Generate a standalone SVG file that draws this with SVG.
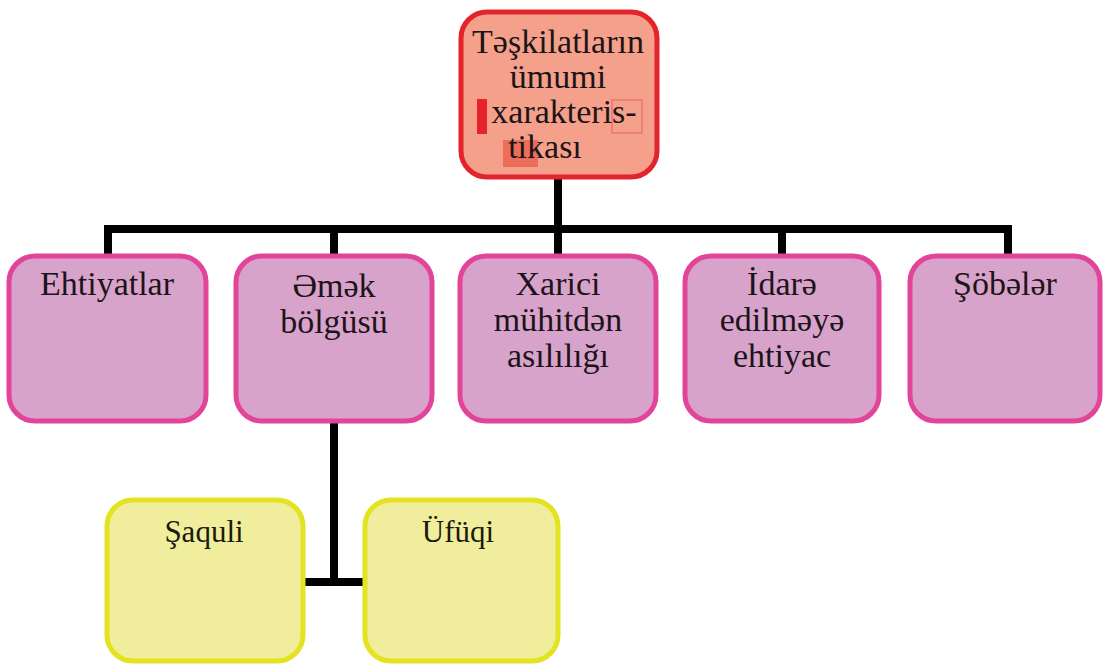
<svg xmlns="http://www.w3.org/2000/svg" width="1103" height="664" viewBox="0 0 1103 664">
<style>
.t{font-family:"Liberation Serif","Times New Roman",serif;font-size:34px;fill:#1c1418;text-anchor:middle}
.ty{font-family:"Liberation Serif","Times New Roman",serif;font-size:31px;fill:#1c1a10;text-anchor:middle}
.root{fill:#f4a08a;stroke:#e3242b;stroke-width:5}
.pink{fill:#d8a3cb;stroke:#e2449a;stroke-width:5}
.yel{fill:#f0ee9c;stroke:#e3e322;stroke-width:5}
.c{fill:none;stroke:#000;stroke-width:8;stroke-linecap:butt}
</style>
<rect width="1103" height="664" fill="#fff"/>
<g id="connectors">
<path class="c" d="M558 177V257"/>
<path class="c" d="M108 257V229H1008V257"/>
<path class="c" d="M334 229V257"/>
<path class="c" d="M782 229V257"/>
<path class="c" d="M334 422V582"/>
<path class="c" d="M303 582H365"/>
</g>
<g id="root">
<rect class="root" x="461" y="12" width="196" height="165" rx="26"/>
<rect x="477" y="99" width="10" height="35" fill="#e8222a"/>
<rect x="503" y="140" width="35" height="27" fill="#e8604e" opacity="0.8"/>
<rect x="612" y="100" width="30" height="33" fill="none" stroke="#e86060" stroke-width="1"/>
<text class="t" x="558" y="53">Təşkilatların</text>
<text class="t" x="558" y="88">ümumi</text>
<text class="t" x="564" y="123">xarakteris-</text>
<text class="t" x="545" y="158">tikası</text>
</g>
<g id="n1">
<rect class="pink" x="9" y="256" width="197" height="165" rx="26"/>
<text class="t" x="107" y="295">Ehtiyatlar</text>
</g>
<g id="n2">
<rect class="pink" x="236" y="256" width="196" height="165" rx="26"/>
<text class="t" x="334" y="297">Əmək</text>
<text class="t" x="334" y="333">bölgüsü</text>
</g>
<g id="n3">
<rect class="pink" x="460" y="256" width="196" height="165" rx="26"/>
<text class="t" x="558" y="295">Xarici</text>
<text class="t" x="558" y="331">mühitdən</text>
<text class="t" x="558" y="367">asılılığı</text>
</g>
<g id="n4">
<rect class="pink" x="685" y="256" width="194" height="165" rx="26"/>
<text class="t" x="782" y="295">İdarə</text>
<text class="t" x="782" y="331">edilməyə</text>
<text class="t" x="782" y="367">ehtiyac</text>
</g>
<g id="n5">
<rect class="pink" x="910" y="256" width="190" height="165" rx="26"/>
<text class="t" x="1005" y="295">Şöbələr</text>
</g>
<g id="n6">
<rect class="yel" x="107" y="500" width="196" height="161" rx="26"/>
<text class="ty" x="204" y="542">Şaquli</text>
</g>
<g id="n7">
<rect class="yel" x="365" y="500" width="193" height="161" rx="26"/>
<text class="ty" x="458" y="542">Üfüqi</text>
</g>
</svg>
